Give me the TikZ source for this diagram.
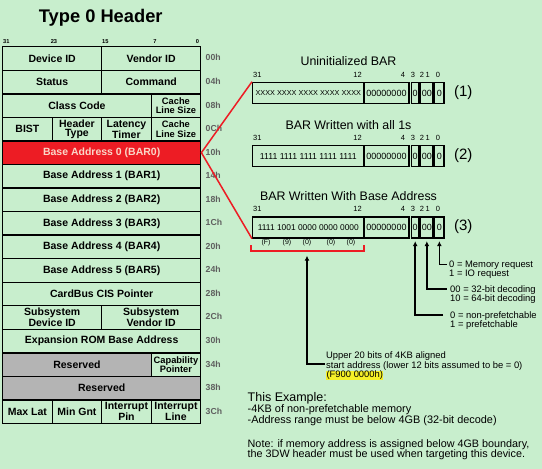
\documentclass[tikz,border=0pt]{standalone}
\usepackage{fontspec}
\setmainfont{Liberation Sans}
\usetikzlibrary{arrows.meta}
\definecolor{bggreen}{RGB}{200,238,205}
\definecolor{barred}{RGB}{237,28,36}
\definecolor{resgray}{RGB}{180,180,180}
\definecolor{offgray}{RGB}{95,95,95}
\definecolor{hilite}{RGB}{245,240,40}
\definecolor{bartext}{RGB}{250,215,200}
\newcommand{\fs}[2]{\fontsize{#1}{#2}\selectfont}
\newcommand{\ry}[1]{(46+23.55*(#1))}

\begin{document}
\begin{tikzpicture}[x=1pt,y=-1pt,>={Latex[length=5pt,width=5pt]},
  cell/.style={draw,line width=1.4pt,fill=bggreen,anchor=north west,inner sep=0pt,
    minimum height=23.55pt,align=center,font=\bfseries\fs{10.5}{9.5}},
  c1/.style={cell,minimum width=49.5pt},
  c2/.style={cell,minimum width=99pt},
  c3/.style={cell,minimum width=148.5pt},
  c4/.style={cell,minimum width=198pt},
  small/.style={font=\bfseries\fs{9.3}{9.3}},
  barbox/.style={draw,line width=1.4pt,anchor=north west,inner sep=0pt,
    minimum height=21pt,font=\fs{9}{9}},
  bitno/.style={font=\fs{7.5}{8},anchor=base,inner sep=0pt},
  note/.style={font=\fs{9.4}{9.7},align=left,anchor=north west,inner sep=0pt},
  arr/.style={->,line width=1.5pt}]
  \fill[bggreen] (0,0) rectangle (542,469);

  % header table
  \node[font=\bfseries\fs{18.3}{20},anchor=base] (title) at (100.7,22.7) {Type 0 Header};
  \foreach \t/\x/\a in {31/3/base west,23/54/base,15/105.3/base,7/155/base,0/199.3/base east}
    \node[font=\bfseries\fs{5.7}{6},inner sep=0pt,anchor=\a] (top\t) at (\x,43.3) {\t};

  \node[c2] (devid) at (2,{\ry{0}}) {Device ID};
  \node[c2] (venid) at (101,{\ry{0}}) {Vendor ID};
  \node[c2] (status) at (2,{\ry{1}}) {Status};
  \node[c2] (cmd) at (101,{\ry{1}}) {Command};
  \node[c3] (class) at (2,{\ry{2}}) {Class Code};
  \node[c1,small] (cache) at (150.5,{\ry{2}}) {Cache\\Line Size};
  \node[c1] (bist) at (2,{\ry{3}}) {BIST};
  \node[c1] (htype) at (51.5,{\ry{3}}) {Header\\Type};
  \node[c1] (lat) at (101,{\ry{3}}) {Latency\\Timer};
  \node[c1,small] (cachetwo) at (150.5,{\ry{3}}) {Cache\\Line Size};
  \node[c4,fill=barred,text=bartext] (bar0) at (2,{\ry{4}}) {Base Address 0 (BAR0)};
  \foreach \b in {1,...,5}
    \node[c4] (bar\b) at (2,{\ry{\b+4}}) {Base Address \b\ (BAR\b)};
  \node[c4] (cis) at (2,{\ry{10}}) {CardBus CIS Pointer};
  \node[c2] (subdev) at (2,{\ry{11}}) {Subsystem\\Device ID};
  \node[c2] (subven) at (101,{\ry{11}}) {Subsystem\\Vendor ID};
  \node[c4] (rom) at (2,{\ry{12}}) {Expansion ROM Base Address};
  \node[c3,fill=resgray] (res) at (2,{\ry{13}}) {Reserved};
  \node[c1,small] (cap) at (150.5,{\ry{13}}) {Capability\\Pointer};
  \node[c4,fill=resgray] (restwo) at (2,{\ry{14}}) {Reserved};
  \node[c1] (maxlat) at (2,{\ry{15}}) {Max Lat};
  \node[c1] (mingnt) at (51.5,{\ry{15}}) {Min Gnt};
  \node[c1] (ipin) at (101,{\ry{15}}) {Interrupt\\Pin};
  \node[c1] (iline) at (150.5,{\ry{15}}) {Interrupt\\Line};
  \foreach \o [count=\i from 0] in {00h,04h,08h,0Ch,10h,14h,18h,1Ch,20h,24h,28h,2Ch,30h,34h,38h,3Ch}
    \node[font=\bfseries\fs{8.7}{9},text=offgray,anchor=west,inner sep=0pt] (off\i) at (205.5,{\ry{\i}+11.8}) {\o};

  % the three BAR pictures
  \foreach \k/\ty/\ttl/\hitext in {1/81.7/Uninitialized BAR/{\fs{7.3}{8}XXXX XXXX XXXX XXXX XXXX},
      2/145/BAR Written with all 1s/{\fs{8.7}{9}1111 1111 1111 1111 1111},
      3/216.3/BAR Written With Base Address/{\fs{8.4}{9}1111 1001 0000 0000 0000}} {
    \node[font=\fs{12.4}{14},anchor=base,inner sep=0pt] (ttl\k) at (348.5,{\ty-16}) {\ttl};
    \node[barbox,minimum width=111.3pt] (bhi\k) at (252,\ty) {\hitext};
    \node[barbox,minimum width=45pt] (bmid\k) at (363.3,\ty) {00000000};
    \node[barbox,minimum width=7.6pt] (bthree\k) at (410.7,\ty) {0};
    \node[barbox,minimum width=12.3pt] (btwo\k) at (420,\ty) {00};
    \node[barbox,minimum width=9.3pt] (bzero\k) at (434,\ty) {0};
    \node[bitno,anchor=base west] at (253,{\ty-4.7}) {31};
    \node[bitno,anchor=base east] at (362,{\ty-4.7}) {12};
    \foreach \n/\x in {4/403,3/413,2/422,1/427.7,0/438}
      \node[bitno] at (\x,{\ty-4.7}) {\n};
    \node[font=\fs{15}{15}] (num\k) at (463.3,{\ty+10.5}) {(\k)};
  }
  \draw[barred,line width=1.5pt] (bhi1.north west) -- (bar0.east) -- (bhi3.south west);

  % upper 20 bits
  \foreach \h/\x in {F/266,9/287,0/307,0/331,0/351}
    \node[font=\fs{7}{8},inner sep=0pt] at (\x,243) {(\h)};
  \draw[barred,line width=2pt] (251,245) -- (251,250.7) -- (364,250.7) -- (364,245);
  \coordinate (brk) at (307,250.7);

  % field notes
  \node[note] (tmem) at (449,260.3) {0 = Memory request\\1 = IO request};
  \node[note] (tdec) at (450,285.2) {00 = 32-bit decoding\\10 = 64-bit decoding};
  \node[note] (tpre) at (450,311.2) {0 = non-prefetchable\\1 = prefetchable};
  \node[note] (tbase) at (326,351.5) {Upper 20 bits of 4KB aligned\\start address (lower 12 bits assumed to be = 0)\\{\setlength\fboxsep{0.4pt}\colorbox{hilite}{(F900 0000h)}}};
  \coordinate (emem) at (446.7,264.3);
  \coordinate (edec) at (446.7,289);
  \coordinate (epre) at (443,315);
  \coordinate (ebase) at (325,364);
  \draw[arr] (emem) -| ([yshift=-2.5pt]bzero3.south);
  \draw[arr] (edec) -| ([yshift=-2.5pt]btwo3.south);
  \draw[arr] (epre) -| ([yshift=-2.5pt]bthree3.south);
  \draw[arr] (ebase) -| ([yshift=-5pt]brk);

  % example text
  \node[font=\fs{12.5}{13},anchor=base west,inner sep=0pt] (exttl) at (247.5,401.7) {This Example:};
  \node[note,font=\fs{10.9}{10.7}] (exbody) at (247.5,404.8) {-4KB of non-prefetchable memory\\-Address range must be below 4GB (32-bit decode)};
  \node[note,font=\fs{10.8}{10.2}] (exnote) at (247.5,439) {Note: if memory address is assigned below 4GB boundary,\\the 3DW header must be used when targeting this device.};
\end{tikzpicture}
\end{document}
